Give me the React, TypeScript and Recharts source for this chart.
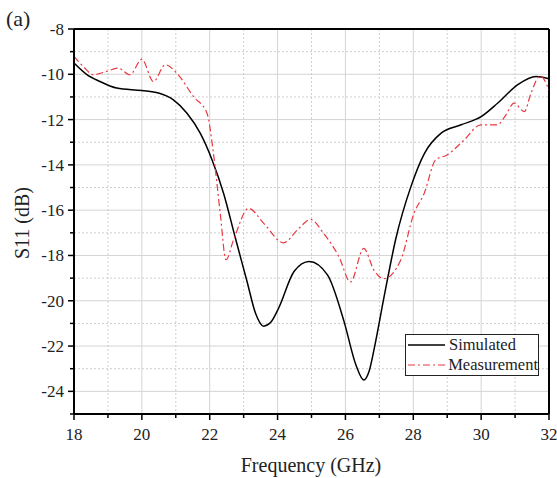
import { LineChart, Line, XAxis, YAxis, CartesianGrid, ReferenceLine, Legend } from "recharts"

const simFreq = [18, 18.37, 18.77, 19.26, 20.0, 20.49, 20.93, 21.33, 21.72, 22.07, 22.41, 22.76, 23.1, 23.35, 23.59, 23.8, 24.03, 24.49, 24.93, 25.47, 25.96, 26.31, 26.54, 26.7, 26.85, 27.15, 27.49, 27.93, 28.33, 28.82, 29.41, 30.0, 30.49, 31.08, 31.62, 32]
const simS11 = [-9.5, -10.0, -10.32, -10.61, -10.72, -10.83, -11.13, -11.72, -12.6, -13.78, -15.26, -17.25, -19.15, -20.55, -21.12, -20.95, -20.33, -18.7, -18.27, -18.86, -20.92, -22.84, -23.5, -23.1, -22.1, -19.74, -17.23, -14.96, -13.49, -12.6, -12.23, -11.87, -11.27, -10.46, -10.1, -10.2]

const measFreq = [18, 18.3, 18.57, 18.96, 19.31, 19.65, 20.0, 20.34, 20.69, 21.03, 21.52, 21.92, 22.11, 22.31, 22.48, 22.7, 23.15, 23.59, 24.18, 24.58, 24.97, 25.36, 25.81, 26.15, 26.54, 26.84, 27.13, 27.63, 28.02, 28.32, 28.66, 29.0, 29.5, 29.99, 30.48, 30.73, 30.97, 31.27, 31.47, 31.74, 32]
const measS11 = [-9.21, -9.7, -10.02, -9.87, -9.73, -10.02, -9.33, -10.32, -9.58, -9.95, -10.98, -11.72, -13.49, -16.14, -18.19, -17.32, -15.92, -16.58, -17.44, -16.88, -16.41, -17.03, -18.06, -19.17, -17.69, -18.65, -19.02, -18.2, -16.14, -15.26, -13.78, -13.56, -12.9, -12.23, -12.23, -11.79, -11.27, -11.65, -10.83, -10.07, -10.69]

const xTicks = [18, 19, 20, 21, 22, 23, 24, 25, 26, 27, 28, 29, 30, 31, 32]
const yTicks = [-25, -24, -23, -22, -21, -20, -19, -18, -17, -16, -15, -14, -13, -12, -11, -10, -9, -8]
const majorX = [20, 22, 24, 26, 28, 30]
const minorX = [19, 21, 23, 25, 27, 29, 31]
const majorY = [-24, -22, -20, -18, -16, -14, -12, -10]
const minorY = [-23, -21, -19, -17, -15, -13, -11, -9]

const simData = simFreq.map((x, i) => ({ x, y: simS11[i] }))
const measData = measFreq.map((x, i) => ({ x, y: measS11[i] }))

const FONT = '"Liberation Serif", "Times New Roman", serif'
const RED = "#e8393f"

const XTick = ({ x, y, payload }: any) => {
  const major = payload.value % 2 === 0
  return (
    <g>
      <line x1={x} x2={x} y1={y} y2={y + (major ? 6 : 4)} stroke="#000" strokeWidth={1.5} />
      {major && (
        <text x={x} y={y + 26} textAnchor="middle" fontSize={17} fontFamily={FONT} fill="#222">
          {payload.value}
        </text>
      )}
    </g>
  )
}

const YTick = ({ x, y, payload }: any) => {
  const major = payload.value % 2 === 0
  return (
    <g>
      <line x1={x} x2={x - (major ? 6 : 4)} y1={y} y2={y} stroke="#000" strokeWidth={1.5} />
      {major && (
        <text x={x - 10} y={y + 6} textAnchor="end" fontSize={17} fontFamily={FONT} fill="#222">
          {payload.value}
        </text>
      )}
    </g>
  )
}

const LegendBox = () => (
  <div
    style={{
      width: 132,
      height: 40,
      border: "1px solid #222",
      background: "#fff",
      fontFamily: FONT,
      fontSize: 16.5,
      color: "#222",
      boxSizing: "content-box",
      lineHeight: "20px",
    }}
  >
    <div style={{ display: "flex", alignItems: "center", height: 20 }}>
      <svg width={38} height={10} style={{ marginLeft: 2 }}>
        <line x1={0} x2={37} y1={5} y2={5} stroke="#000" strokeWidth={1.5} />
      </svg>
      <span style={{ marginLeft: 3 }}>Simulated</span>
    </div>
    <div style={{ display: "flex", alignItems: "center", height: 20 }}>
      <svg width={38} height={10} style={{ marginLeft: 2 }}>
        <line x1={0} x2={37} y1={5} y2={5} stroke={RED} strokeWidth={1.2} strokeDasharray="7 3 2 3" />
      </svg>
      <span style={{ marginLeft: 3 }}>Measurement</span>
    </div>
  </div>
)

export default function App() {
  return (
    <div style={{ position: "absolute", left: 0, top: 0, width: 557, height: 478, background: "#fff" }}>
      <div style={{ position: "absolute", left: 6, top: 6, fontFamily: FONT, fontSize: 22, color: "#222" }}>(a)</div>
      <LineChart width={557} height={478} margin={{ top: 29, right: 8, bottom: 0, left: 0 }}>
        <CartesianGrid stroke="#d4d4d4" strokeWidth={1} verticalValues={majorX} horizontalValues={majorY} />
        <CartesianGrid stroke="#cfcfcf" strokeWidth={1} strokeDasharray="2 2" verticalValues={minorX} horizontalValues={minorY} />
        <XAxis
          dataKey="x"
          type="number"
          domain={[18, 32]}
          ticks={xTicks}
          interval={0}
          height={64}
          tickSize={0}
          tickMargin={0}
          tickLine={false}
          tick={<XTick />}
          axisLine={{ stroke: "#000", strokeWidth: 2 }}
          allowDataOverflow
          label={{
            content: () => (
              <text x={311} y={472} textAnchor="middle" fontSize={20} fontFamily={FONT} fill="#222">
                Frequency (GHz)
              </text>
            ),
          }}
        />
        <YAxis
          type="number"
          domain={[-25, -8]}
          ticks={yTicks}
          interval={0}
          width={74}
          tickSize={0}
          tickMargin={0}
          tickLine={false}
          tick={<YTick />}
          axisLine={{ stroke: "#000", strokeWidth: 2 }}
          allowDataOverflow
          label={{
            content: () => (
              <text
                x={29}
                y={223}
                transform="rotate(-90 29 223)"
                textAnchor="middle"
                fontSize={20}
                fontFamily={FONT}
                fill="#222"
              >
                S11 (dB)
              </text>
            ),
          }}
        />
        <ReferenceLine x={32} stroke="#000" strokeWidth={2} />
        <ReferenceLine y={-8} stroke="#000" strokeWidth={2} />
        <Line
          data={simData}
          dataKey="y"
          type="monotone"
          stroke="#000"
          strokeWidth={1.5}
          dot={false}
          isAnimationActive={false}
        />
        <Line
          data={measData}
          dataKey="y"
          type="monotone"
          stroke={RED}
          strokeWidth={1.2}
          strokeDasharray="7 3 2 3"
          dot={false}
          isAnimationActive={false}
        />
        <Legend
          layout="vertical"
          align="center"
          verticalAlign="middle"
          content={<LegendBox />}
          wrapperStyle={{ left: 405, top: 334, width: "auto" }}
        />
      </LineChart>
    </div>
  )
}
